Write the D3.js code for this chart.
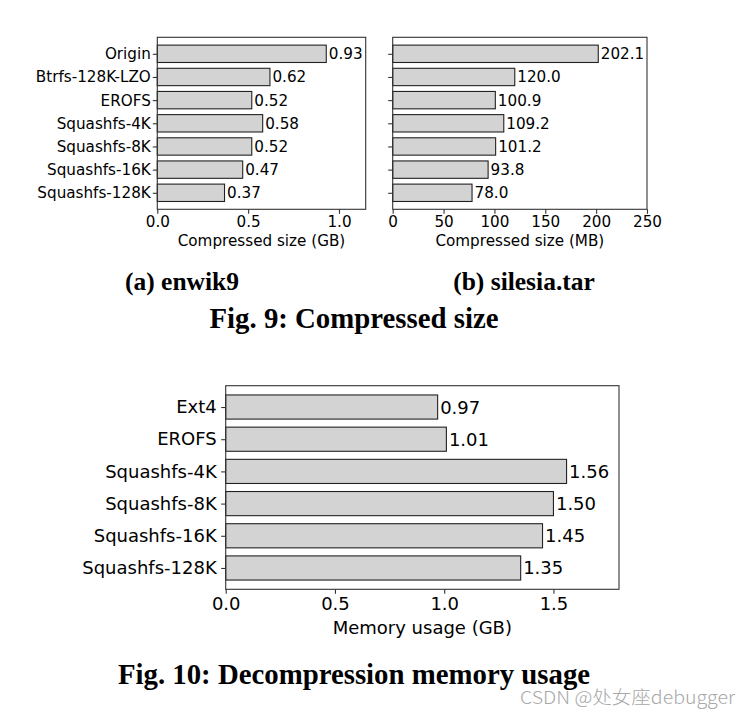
<!DOCTYPE html>
<html>
<head>
<meta charset="utf-8">
<script src="https://cdn.jsdelivr.net/npm/d3@7"></script>
<style>
  body { margin: 0; background: #fff; }
  svg { display: block; }
</style>
</head>
<body>
<script>
// data
var sizeNames = ["Origin", "Btrfs-128K-LZO", "EROFS", "Squashfs-4K", "Squashfs-8K", "Squashfs-16K", "Squashfs-128K"];
var enwik9GB = [0.93, 0.62, 0.52, 0.58, 0.52, 0.47, 0.37];
var silesiaMB = [202.1, 120.0, 100.9, 109.2, 101.2, 93.8, 78.0];
var enwik9Ticks = [0.0, 0.5, 1.0];
var silesiaTicks = [0, 50, 100, 150, 200, 250];

var memNames = ["Ext4", "EROFS", "Squashfs-4K", "Squashfs-8K", "Squashfs-16K", "Squashfs-128K"];
var memGB = [0.97, 1.01, 1.56, 1.50, 1.45, 1.35];
var memTicks = [0.0, 0.5, 1.0, 1.5];

var svg = d3.select("body").append("svg")
  .attr("width", 749)
  .attr("height", 718);

// one horizontal bar chart, matplotlib style
function barh(o) {
  var n = o.names.length;
  var h = 0.75; // bar height in category units
  var x = d3.scaleLinear().domain(o.xdom).range([o.left, o.right]);
  var pad = (n - 1 + h) * 0.05;
  var y = d3.scaleLinear().domain([-h / 2 - pad, n - 1 + h / 2 + pad]).range([o.top, o.bottom]);
  var g = svg.append("g");

  g.selectAll("rect.bar").data(o.values).enter().append("rect")
    .attr("class", "bar")
    .attr("x", x(0))
    .attr("y", function(d, i) { return y(i - h / 2); })
    .attr("width", function(d) { return x(d) - x(0); })
    .attr("height", y(h) - y(0))
    .attr("fill", "#d3d3d3")
    .attr("stroke", "#222")
    .attr("stroke-width", 1.1);

  g.selectAll("text.val").data(o.values).enter().append("text")
    .attr("class", "val")
    .attr("x", function(d) { return x(d) + 2.5; })
    .attr("y", function(d, i) { return y(i); })
    .attr("dy", "0.36em")
    .style("font-family", "DejaVu Sans")
    .style("font-size", o.fs + "px")
    .text(function(d) { return d.toFixed(o.dec); });

  // frame
  g.append("rect")
    .attr("x", o.left).attr("y", o.top)
    .attr("width", o.right - o.left).attr("height", o.bottom - o.top)
    .attr("fill", "none").attr("stroke", "#333").attr("stroke-width", 1.1);

  var xAxis = d3.axisBottom(x).tickValues(o.ticks).tickSize(4.5).tickPadding(o.xpad)
    .tickFormat(d3.format(o.tickFmt));
  var xa = g.append("g").attr("transform", "translate(0," + o.bottom + ")").call(xAxis);
  xa.select(".domain").remove();

  var yAxis = d3.axisLeft(y).tickValues(d3.range(n)).tickSize(4.5).tickPadding(o.ypad)
    .tickFormat(function(i) { return o.showNames ? o.names[i] : ""; });
  var ya = g.append("g").attr("transform", "translate(" + o.left + ",0)").call(yAxis);
  ya.select(".domain").remove();

  g.selectAll(".tick line").attr("stroke", "#333").attr("stroke-width", 1.1);
  g.selectAll(".tick text")
    .style("font-family", "DejaVu Sans")
    .style("font-size", o.fs + "px")
    .attr("fill", "#000");

  g.append("text")
    .attr("x", (o.left + o.right) / 2)
    .attr("y", o.titleY)
    .attr("text-anchor", "middle")
    .style("font-family", "DejaVu Sans")
    .style("font-size", o.fs + "px")
    .text(o.title);
}

barh({ names: sizeNames, values: enwik9GB, xdom: [0, 1.147], ticks: enwik9Ticks, tickFmt: ".1f",
  left: 157.3, right: 365.7, top: 37.3, bottom: 209.3, fs: 15.2, dec: 2, showNames: true,
  xpad: 2, ypad: 2, title: "Compressed size (GB)", titleY: 246 });

barh({ names: sizeNames, values: silesiaMB, xdom: [0, 250], ticks: silesiaTicks, tickFmt: "d",
  left: 392.7, right: 647, top: 37.3, bottom: 209.3, fs: 15.2, dec: 1, showNames: false,
  xpad: 2, ypad: 2, title: "Compressed size (MB)", titleY: 246 });

barh({ names: memNames, values: memGB, xdom: [0, 1.8], ticks: memTicks, tickFmt: ".1f",
  left: 225.7, right: 619, top: 385.7, bottom: 589.3, fs: 18, dec: 2, showNames: true,
  xpad: 3, ypad: 4.5, title: "Memory usage (GB)", titleY: 634 });

// captions
function caption(txt, cx, cy, fs) {
  svg.append("text")
    .attr("x", cx).attr("y", cy)
    .attr("text-anchor", "middle")
    .style("font-family", "Liberation Serif")
    .style("font-weight", "bold")
    .style("font-size", fs + "px")
    .text(txt);
}
caption("(a) enwik9", 182, 290, 25.5);
caption("(b) silesia.tar", 524, 290, 25.5);
caption("Fig. 9: Compressed size", 354, 328, 28.8);
caption("Fig. 10: Decompression memory usage", 354, 684, 28.8);

svg.append("text")
  .attr("x", 735).attr("y", 704)
  .attr("text-anchor", "end")
  .style("font-family", "Noto Sans CJK SC")
  .style("font-size", "18px")
  .style("font-weight", 300)
  .attr("textLength", 215)
  .attr("lengthAdjust", "spacingAndGlyphs")
  .attr("fill", "#a8a8a8")
  .text("CSDN @处女座debugger");
</script>
</body>
</html>
